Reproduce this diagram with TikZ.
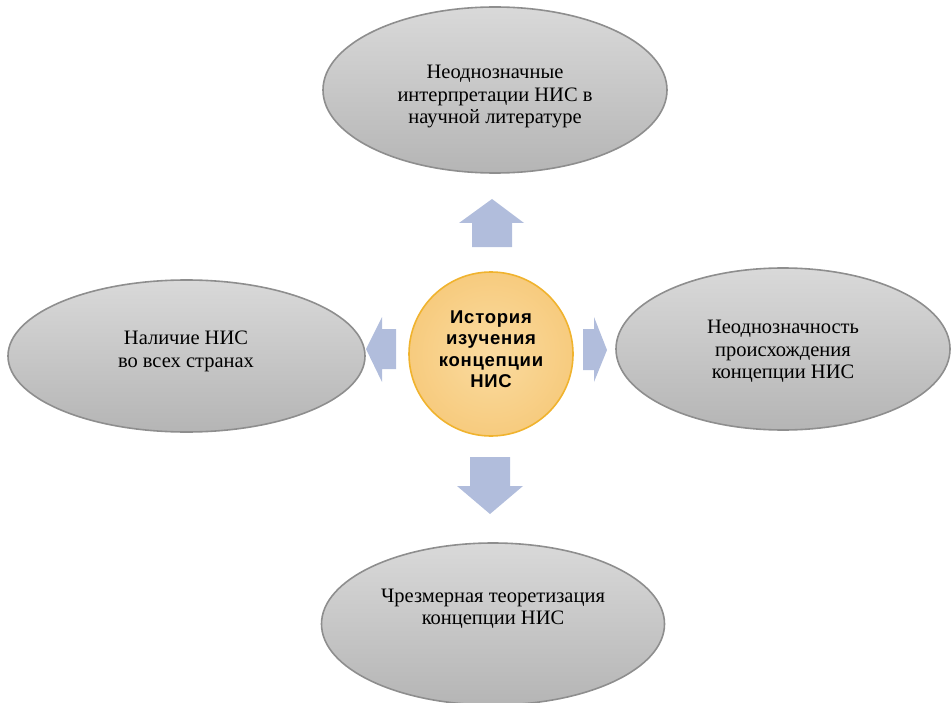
\documentclass[tikz,border=0pt]{standalone}
\usepackage{fontspec}
\setmainfont{Liberation Serif}
\newfontfamily\headfont[LetterSpace=4]{Liberation Sans}
\usetikzlibrary{shapes.geometric}
\definecolor{ellfill1}{HTML}{D9D9D9}
\definecolor{ellfill2}{HTML}{B5B5B5}
\definecolor{ellline}{HTML}{8E8E8E}
\definecolor{circfill1}{HTML}{FADBA0}
\definecolor{circfill2}{HTML}{F7CB7E}
\definecolor{circline}{HTML}{F0B32E}
\definecolor{arrowfill}{HTML}{B1BDDC}
\tikzset{
  ell/.style={ellipse, draw=ellline, line width=1.6pt, top color=ellfill1, bottom color=ellfill2, inner sep=0pt},
  elltext/.style={align=center, font=\fontsize{20.5}{22.5}\selectfont, text=black},
  centre/.style={circle, draw=circline, line width=1.6pt, inner color=circfill1, outer color=circfill2, inner sep=0pt, minimum size=164pt},
  centretext/.style={align=center, font=\headfont\bfseries\fontsize{18.5}{21.5}\selectfont},
  blockarrow/.style={fill=arrowfill, draw=none}
}
\begin{document}
\begin{tikzpicture}[x=1pt,y=-1pt]
\useasboundingbox (0,0) rectangle (952,703);
% ellipses
\node[ell, minimum width=344pt, minimum height=166pt] (top) at (495,90) {};
\node[ell, minimum width=357pt, minimum height=152pt] (left) at (186.5,356) {};
\node[ell, minimum width=334pt, minimum height=162pt] (right) at (783,349) {};
\node[ell, minimum width=343pt, minimum height=162pt] (bottom) at (493,624) {};
% centre
\node[centre] (c) at (491,354) {};
\node[centretext] (ctext) at (491,349) {История\\изучения\\концепции\\НИС};
% texts
\node[elltext] (toptext) at (495,97) {Неоднозначные\\интерпретации НИС в\\научной литературе};
\node[elltext] (lefttext) at (186,351.5) {Наличие НИС\\во всех странах};
\node[elltext] (righttext) at (783,351.5) {Неоднозначность\\происхождения\\концепции НИС};
\node[elltext] (bottomtext) at (493,609) {Чрезмерная теоретизация\\концепции НИС};
% block arrows
\fill[blockarrow] (492,199) -- (524,223) -- (512,223) -- (512,247) -- (472,247) -- (472,223) -- (459,223) -- cycle;
\fill[blockarrow] (366,349) -- (382,317) -- (382,329) -- (396,329) -- (396,369) -- (382,369) -- (382,382) -- cycle;
\fill[blockarrow] (607,350) -- (594,317) -- (594,329) -- (583,329) -- (583,370) -- (594,370) -- (594,382) -- cycle;
\fill[blockarrow] (490,514) -- (523,486) -- (510,486) -- (510,457) -- (470,457) -- (470,486) -- (457,486) -- cycle;
\end{tikzpicture}
\end{document}
